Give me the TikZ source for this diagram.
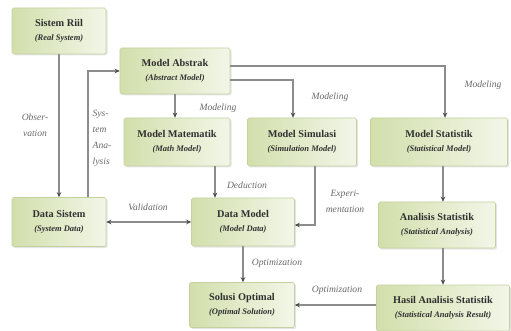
\documentclass[tikz,border=0pt]{standalone}
\usepackage{fontspec}
\setmainfont{Liberation Serif}
\usetikzlibrary{arrows.meta,shadows}
\definecolor{boxtop}{HTML}{F3F6E8}
\definecolor{boxbot}{HTML}{D2DFAC}
\definecolor{boxline}{HTML}{C4D19E}
\definecolor{linec}{HTML}{8C8C8C}
\definecolor{labc}{HTML}{6A6A6A}
\definecolor{txt}{HTML}{303030}
\newcommand{\subtl}[1]{{\itshape\fontsize{8.5}{11}\selectfont(#1)}}
\begin{document}
\begin{tikzpicture}[x=1pt,y=-1pt,
 box/.style={draw=boxline, line width=0.6pt, rounded corners=1.5pt,
   left color=boxbot, right color=boxtop,
   drop shadow={shadow xshift=1.5pt, shadow yshift=-1.5pt, opacity=0.2},
   align=center, text=txt, inner sep=0pt,
   font=\bfseries\fontsize{10.3}{14.5}\selectfont},
 conn/.style={draw=linec, line width=1.1pt, -{Stealth[length=5pt,width=4.5pt,color=black!70]}},
 conn2/.style={draw=linec, line width=1.1pt, {Stealth[length=5pt,width=4.5pt,color=black!70]}-{Stealth[length=5pt,width=4.5pt,color=black!70]}},
 lab/.style={text=labc, font=\itshape\fontsize{9.6}{16}\selectfont, align=center, inner sep=0pt}]
\useasboundingbox (0,0) rectangle (511,331);
\fill[white] (0,0) rectangle (511,331);

% boxes
\node[box, minimum width=94pt, minimum height=46pt] (sr) at (59,31) {Sistem Riil\\\subtl{Real System}};
\node[box, minimum width=110pt, minimum height=46pt] (ma) at (175,71) {Model Abstrak\\\subtl{Abstract Model}};
\node[box, minimum width=106pt, minimum height=48pt] (mm) at (177,142) {Model Matematik\\\subtl{Math Model}};
\node[box, minimum width=109pt, minimum height=48pt] (ms) at (302,142) {Model Simulasi\\\subtl{Simulation Model}};
\node[box, minimum width=137pt, minimum height=48pt] (mst) at (439,142) {Model Statistik\\\subtl{Statistical Model}};
\node[box, minimum width=94pt, minimum height=49pt] (ds) at (59,222) {Data Sistem\\\subtl{System Data}};
\node[box, minimum width=103pt, minimum height=48pt] (dm) at (243,222) {Data Model\\\subtl{Model Data}};
\node[box, minimum width=117pt, minimum height=46pt] (as) at (437,225) {Analisis Statistik\\\subtl{Statistical Analysis}};
\node[box, minimum width=105pt, minimum height=45pt] (so) at (242,305) {Solusi Optimal\\\subtl{Optimal Solution}};
\node[box, minimum width=133pt, minimum height=46pt] (ha) at (443,308) {Hasil Analisis Statistik\\\subtl{Statistical Analysis Result}};

% connectors
\draw[conn] (sr.south) -- (ds.north);
\draw[conn] ([xshift=29pt]ds.north) |- (ma.west);
\draw[conn] (ma.south) -- (ma.south |- mm.north);
\draw[conn] ([yshift=-9pt]ma.east) -| ([xshift=-9pt]ms.north);
\draw[conn] ([yshift=5pt]ma.east) -| ([xshift=6pt]mst.north);
\draw[conn] ([xshift=38pt]mm.south) -- ([xshift=38pt]mm.south |- dm.north);
\draw[conn] ([xshift=13pt]ms.south) |- ([yshift=-3pt]dm.east);
\draw[conn2] (ds.east) -- (dm.west);
\draw[conn] (dm.south) -- (dm.south |- so.north);
\draw[conn] ([xshift=4pt]mst.south) -- ([xshift=4pt]mst.south |- as.north);
\draw[conn] ([xshift=6pt]as.south) -- ([xshift=6pt]as.south |- ha.north);
\draw[conn] (so.east -| ha.west) -- (so.east);

% labels
\node[lab] (l1) at (35,125) {Obser-\\vation};
\node[lab, align=left] (l2) at (102,138) {Sys-\\tem\\Ana-\\lysis};
\node[lab] (l3) at (218,108) {Modeling};
\node[lab] (l4) at (330,97) {Modeling};
\node[lab] (l5) at (483,85) {Modeling};
\node[lab] (l6) at (247,185) {Deduction};
\node[lab] (l7) at (148,207) {Validation};
\node[lab] (l8) at (345,201) {Experi-\\mentation};
\node[lab] (l9) at (277,263) {Optimization};
\node[lab] (l10) at (337,290) {Optimization};
\end{tikzpicture}
\end{document}
